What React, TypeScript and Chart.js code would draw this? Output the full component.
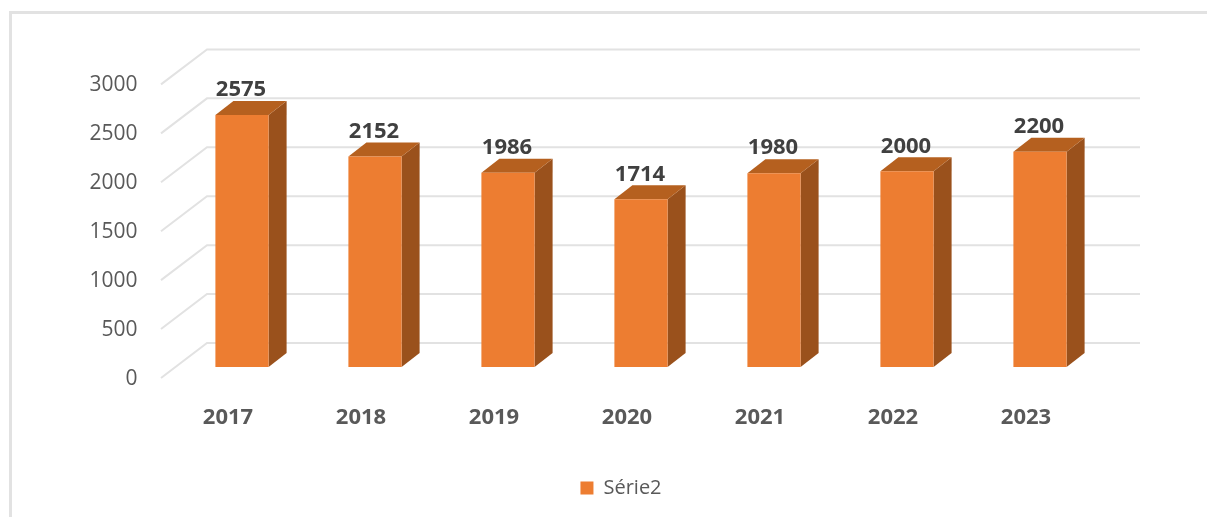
import React, { useEffect, useRef } from "react";
import { Chart, registerables } from "chart.js";

Chart.register(...registerables);

const years = ["2017", "2018", "2019", "2020", "2021", "2022", "2023"];
const serie2 = [2575, 2152, 1986, 1714, 1980, 2000, 2200];
const seriesName = "Série2";
const yTicks = [0, 500, 1000, 1500, 2000, 2500, 3000];

const FRONT = "#ED7D31";
const TOP = "#B5601F";
const SIDE = "#9A511C";
const GRID = "#E2E2E2";
const FONT = '"Open Sans", sans-serif';

const scene3d = {
  id: "scene3d",
  afterLayout(chart: any) {
    // the tick labels sit left of the narrow axis box: widen the box they are clipped to
    chart.scales.y.left = 0;
  },
  beforeDatasetsDraw(chart: any) {
    const { ctx, chartArea, scales } = chart;
    const y = scales.y;
    ctx.save();
    ctx.strokeStyle = GRID;
    ctx.lineWidth = 2;
    yTicks.forEach((v) => {
      const p = y.getPixelForValue(v);
      ctx.beginPath();
      ctx.moveTo(chartArea.left - 14.5, p + 11);
      ctx.lineTo(chartArea.left + 31.5, p - 24);
      ctx.lineTo(chartArea.right + 33.5, p - 24);
      ctx.stroke();
    });
    const dx = 18;
    const dy = 14;
    chart.getDatasetMeta(0).data.forEach((bar: any) => {
      const { x, y: top, base, width } = bar.getProps(["x", "y", "base", "width"], true);
      const l = x - width / 2;
      const r = x + width / 2;
      ctx.fillStyle = SIDE;
      ctx.beginPath();
      ctx.moveTo(r, top);
      ctx.lineTo(r + dx, top - dy);
      ctx.lineTo(r + dx, base - dy);
      ctx.lineTo(r, base);
      ctx.closePath();
      ctx.fill();
      ctx.fillStyle = TOP;
      ctx.beginPath();
      ctx.moveTo(l, top);
      ctx.lineTo(l + dx, top - dy);
      ctx.lineTo(r + dx, top - dy);
      ctx.lineTo(r, top);
      ctx.closePath();
      ctx.fill();
    });
    ctx.restore();
  },
  afterDatasetsDraw(chart: any) {
    const { ctx } = chart;
    ctx.save();
    ctx.fillStyle = "#404040";
    ctx.font = `bold 22px ${FONT}`;
    ctx.textAlign = "center";
    ctx.textBaseline = "middle";
    chart.getDatasetMeta(0).data.forEach((bar: any, i: number) => {
      const { x, y } = bar.getProps(["x", "y"], true);
      ctx.fillText(String(serie2[i]), x - 1, y - 25);
    });
    ctx.restore();
  },
};

export default function App() {
  const ref = useRef<HTMLCanvasElement>(null);

  useEffect(() => {
    const chart = new Chart(ref.current as HTMLCanvasElement, {
      type: "bar",
      data: {
        labels: years,
        datasets: [
          {
            label: seriesName,
            data: serie2,
            backgroundColor: FRONT,
            borderWidth: 0,
            barPercentage: 0.4,
            categoryPercentage: 1,
          },
        ],
      },
      plugins: [scene3d],
      options: {
        responsive: false,
        animation: false,
        layout: { padding: { left: 135.5, right: 100.5, top: 73.4, bottom: 9 } },
        scales: {
          x: {
            grid: { display: false },
            border: { display: false },
            afterFit: (s: any) => {
              s.height = 101;
            },
            ticks: {
              autoSkip: false,
              maxRotation: 0,
              minRotation: 0,
              labelOffset: -14,
              padding: 30,
              color: "#595959",
              font: { family: FONT, size: 22, weight: "bold" },
            },
          },
          y: {
            min: 0,
            max: 3000,
            grid: { display: false, drawTicks: false },
            border: { display: false },
            afterFit: (s: any) => {
              s.width = 40;
            },
            ticks: {
              stepSize: 500,
              labelOffset: 12,
              padding: 38,
              color: "#595959",
              font: { family: FONT, size: 21 },
              callback: (v: any) => String(v),
            },
          },
        },
        plugins: {
          tooltip: { enabled: false },
          legend: {
            position: "bottom",
            labels: {
              boxWidth: 13,
              boxHeight: 13,
              padding: 10,
              color: "#595959",
              font: { family: FONT, size: 20 },
            },
          },
        },
      },
    } as any);
    return () => chart.destroy();
  }, []);

  return (
    <div style={{ position: "fixed", left: 0, top: 0, width: 1207, height: 517, background: "#fff", overflow: "hidden" }}>
      <canvas ref={ref} width={1207} height={517} style={{ display: "block" }} />
      <div style={{ position: "absolute", left: 9, top: 11, right: -4, bottom: -4, borderLeft: "3px solid #E2E2E2", borderTop: "3px solid #E2E2E2" }} />
    </div>
  );
}
